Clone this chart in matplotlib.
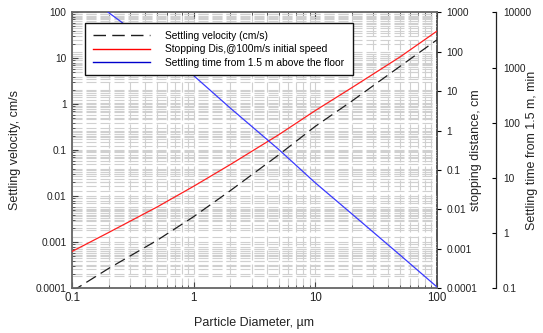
import matplotlib
matplotlib.use("Agg")
import matplotlib.pyplot as plt
from matplotlib.ticker import LogLocator, FuncFormatter, NullFormatter, NullLocator

plt.rcParams['font.family'] = ['Liberation Sans', 'DejaVu Sans']

# Data
diameter = [0.1, 0.2, 0.5, 1, 2, 5, 10, 20, 50, 100]            # µm
settling_velocity = [8.6e-5, 2.7e-4, 1.1e-3, 3.6e-3, 0.0132, 0.079, 0.33, 1.17, 6.7, 25]   # cm/s
stopping_distance = [8.6e-4, 2.6e-3, 0.0115, 0.0386, 0.137, 0.78, 3.2, 12.2, 74, 330]      # cm
settling_time = [34000, 9900, 2230, 716, 185, 33, 8.2, 2.24, 0.40, 0.107]                  # min

labels = ["Settling velocity (cm/s)",
          "Stopping Dis,@100m/s initial speed",
          "Settling time from 1.5 m above the floor"]

fig = plt.figure(figsize=(5.43, 3.33), dpi=100)
ax = fig.add_axes([0.1326, 0.1342, 0.6716, 0.8288])
ax2 = ax.twinx()   # stopping distance scale (labels + grid)
ax4 = ax.twinx()   # stopping distance line layer
ax3 = ax.twinx()   # settling time
ax2.set_zorder(0)
ax.set_zorder(1)
ax4.set_zorder(2)
ax3.set_zorder(3)
ax.patch.set_visible(False)
ax2.patch.set_visible(True)
ax2.patch.set_facecolor('white')

fmt = FuncFormatter(lambda v, p: '{:g}'.format(v))
grid_kw = dict(color='#d0d0d0', linestyle=(0, (9, 3.6)), linewidth=0.8)
tick_color = '#222222'
YTS = 7.3
XTS = 8.3

# main axis
ax.set_xscale('log')
ax.set_yscale('log')
ax.set_xlim(0.1, 100)
ax.set_ylim(0.0001, 100)
ax.xaxis.set_major_locator(LogLocator(base=10, numticks=10))
ax.xaxis.set_minor_locator(LogLocator(base=10, subs=range(2, 10), numticks=20))
ax.yaxis.set_major_locator(LogLocator(base=10, numticks=10))
ax.yaxis.set_minor_locator(LogLocator(base=10, subs=range(2, 10), numticks=20))
ax.xaxis.set_major_formatter(fmt)
ax.yaxis.set_major_formatter(fmt)
ax.xaxis.set_minor_formatter(NullFormatter())
ax.yaxis.set_minor_formatter(NullFormatter())
ax.grid(which='both', **grid_kw)
ax.tick_params(which='both', direction='in', top=True, right=False,
               labelcolor=tick_color, color='#444444')
ax.tick_params(which='major', length=4, width=0.8)
ax.tick_params(which='minor', length=2.5, width=0.6)
ax.tick_params(axis='x', pad=3, labelsize=XTS)
ax.tick_params(axis='y', pad=4, labelsize=YTS)

# stopping distance axis (scale, labels, grid)
for a in (ax2, ax4):
    a.set_yscale('log')
    a.set_ylim(0.0001, 1000)
ax2.yaxis.set_major_locator(LogLocator(base=10, numticks=10))
ax2.yaxis.set_minor_locator(LogLocator(base=10, subs=range(2, 10), numticks=20))
ax2.yaxis.set_major_formatter(fmt)
ax2.yaxis.set_minor_formatter(NullFormatter())
ax2.grid(axis='y', which='both', **grid_kw)
ax2.tick_params(axis='y', which='major', direction='out', length=3, width=0.8,
                labelsize=YTS, labelcolor=tick_color, pad=4)
ax2.tick_params(axis='y', which='minor', length=0)
ax4.yaxis.set_major_locator(NullLocator())
ax4.yaxis.set_minor_locator(NullLocator())
for s in ax4.spines.values():
    s.set_visible(False)

# settling time axis
ax3.set_yscale('log')
ax3.set_ylim(0.1, 10000)
ax3.spines['right'].set_position(('axes', 1.163))
for s in ['top', 'bottom', 'left']:
    ax3.spines[s].set_visible(False)
ax3.yaxis.set_major_locator(LogLocator(base=10, numticks=10))
ax3.yaxis.set_minor_locator(NullLocator())
ax3.yaxis.set_major_formatter(fmt)
ax3.tick_params(axis='y', which='major', direction='in', length=3, width=0.8,
                labelsize=YTS, labelcolor=tick_color, pad=5)
ax3.spines['right'].set_color('#222222')
ax3.spines['right'].set_linewidth(0.9)

for s in ['left', 'bottom', 'top']:
    ax.spines[s].set_color('#666666')
    ax.spines[s].set_linewidth(1.3)
ax.spines['right'].set_visible(False)
for s in ['left', 'top', 'bottom']:
    ax2.spines[s].set_visible(False)
ax2.spines['right'].set_color('#333333')
ax2.spines['right'].set_linewidth(1.2)

# lines
l1, = ax.plot(diameter, settling_velocity, color='#1e1e1e', lw=0.9,
              linestyle=(0, (9, 4.5)))
l2, = ax4.plot(diameter, stopping_distance, color='#ff2020', lw=0.9)
l3, = ax3.plot(diameter, settling_time, color='#3a3aff', lw=0.9)

# labels
ax.set_xlabel('Particle Diameter, µm', fontsize=9, color='#222222')
ax.set_ylabel('Settling velocity, cm/s', fontsize=9, color='#222222')
ax2.set_ylabel('stopping distance, cm', fontsize=9, color='#222222')
ax3.set_ylabel('Settling time from 1.5 m, min', fontsize=9, color='#222222')
ax.xaxis.set_label_coords(0.5, -0.126)
ax.xaxis.label.set_va('center')
ax.yaxis.set_label_coords(-0.156, 0.5)
ax.yaxis.label.set_va('center')
ax2.yaxis.set_label_coords(1.107, 0.5)
ax2.yaxis.label.set_va('center')
ax3.yaxis.set_label_coords(1.261, 0.5)
ax3.yaxis.label.set_va('center')

leg_handles = [plt.Line2D([], [], color='#1e1e1e', lw=1.0, linestyle=(0, (9, 4.5))),
               plt.Line2D([], [], color='#ff0000', lw=1.0),
               plt.Line2D([], [], color='#0000cc', lw=1.0)]
leg = ax3.legend(leg_handles, labels, loc='upper left', mode='expand',
                 bbox_to_anchor=(0.036, 0.5, 0.734, 0.462), borderaxespad=0,
                 fontsize=7.4, handlelength=5.6, handletextpad=1.45,
                 labelspacing=0.35, borderpad=0.75, fancybox=False,
                 framealpha=1, edgecolor='#111111')
leg.get_frame().set_linewidth(1.0)

fig.savefig('out.png', dpi=100, facecolor='white')
